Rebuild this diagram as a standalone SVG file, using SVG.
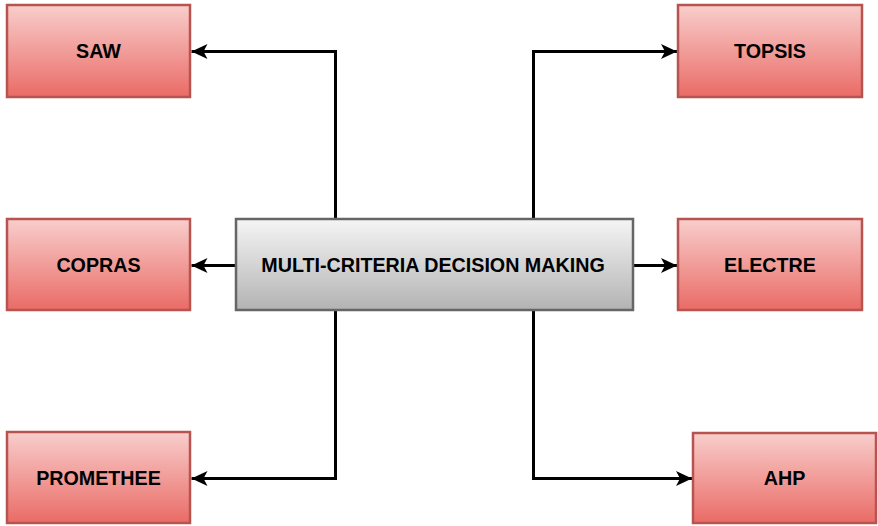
<svg xmlns="http://www.w3.org/2000/svg" width="878" height="526" viewBox="0 0 878 526">
  <defs>
    <linearGradient id="redFill" x1="0" y1="0" x2="0" y2="1">
      <stop offset="0" stop-color="#f8cecc"/>
      <stop offset="1" stop-color="#ea6b66"/>
    </linearGradient>
    <linearGradient id="grayFill" x1="0" y1="0" x2="0" y2="1">
      <stop offset="0" stop-color="#f5f5f5"/>
      <stop offset="1" stop-color="#b3b3b3"/>
    </linearGradient>
    <marker id="arrow" viewBox="0 0 16 15" refX="16" refY="7.5" markerWidth="16" markerHeight="15" markerUnits="userSpaceOnUse" orient="auto">
      <path d="M0,0 L16,7.5 L0,15 L4,7.5 Z" fill="#000"/>
    </marker>
  </defs>
  <style>
    .method rect { fill: url(#redFill); stroke: #b85450; stroke-width: 2.5; }
    .core rect { fill: url(#grayFill); stroke: #666666; stroke-width: 2.5; }
    text { font-family: "Liberation Sans", Arial, Helvetica, sans-serif; font-weight: bold; font-size: 19.7px; fill: #000; text-anchor: middle; dominant-baseline: central; }
    .edges path { fill: none; stroke: #000; stroke-width: 3; marker-end: url(#arrow); }
  </style>

  <g class="edges" id="connectors">
    <path d="M335.5,219 V51.5 H191.5"/>
    <path d="M533.5,219 V51.5 H677"/>
    <path d="M236,265.5 H191.5"/>
    <path d="M633,265.5 H677"/>
    <path d="M335.5,310 V478.5 H191.5"/>
    <path d="M533.5,310 V478.5 H692"/>
  </g>

  <g id="saw" class="method">
    <rect x="7" y="5" width="183" height="92"/>
    <text x="98.5" y="51">SAW</text>
  </g>
  <g id="topsis" class="method">
    <rect x="678" y="5" width="184" height="92"/>
    <text x="770" y="51">TOPSIS</text>
  </g>
  <g id="copras" class="method">
    <rect x="7" y="219" width="183" height="91"/>
    <text x="98.5" y="265">COPRAS</text>
  </g>
  <g id="mcdm" class="core">
    <rect x="236" y="219" width="397" height="91"/>
    <text x="433" y="265">MULTI-CRITERIA DECISION MAKING</text>
  </g>
  <g id="electre" class="method">
    <rect x="678" y="219" width="184" height="91"/>
    <text x="770" y="265">ELECTRE</text>
  </g>
  <g id="promethee" class="method">
    <rect x="7" y="432" width="183" height="91"/>
    <text x="98.5" y="478">PROMETHEE</text>
  </g>
  <g id="ahp" class="method">
    <rect x="693" y="433" width="183" height="90"/>
    <text x="784.5" y="478">AHP</text>
  </g>
</svg>
